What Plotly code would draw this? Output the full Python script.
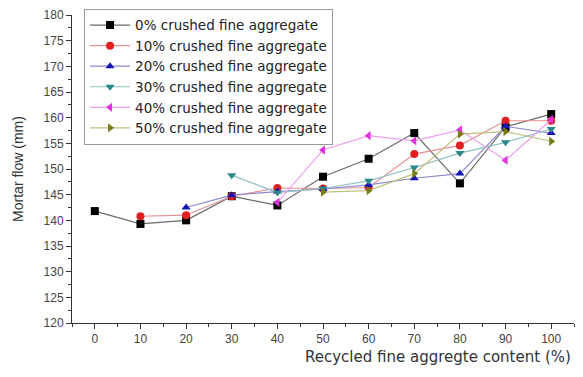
import plotly.graph_objects as go

x_all = [0, 10, 20, 30, 40, 50, 60, 70, 80, 90, 100]

s0 = [141.8, 139.3, 140.0, 144.7, 142.9, 148.5, 152.0, 157.0, 147.2, 158.2, 160.7]
x10 = [10, 20, 30, 40, 50, 60, 70, 80, 90, 100]
s10 = [140.8, 141.0, 144.7, 146.3, 146.2, 146.4, 152.9, 154.6, 159.4, 159.4]
x20 = [20, 30, 40, 50, 60, 70, 80, 90, 100]
s20 = [142.5, 144.9, 145.6, 146.1, 146.9, 148.2, 149.1, 158.3, 157.0]
x30 = [30, 40, 50, 60, 70, 80, 90, 100]
s30 = [148.8, 145.4, 146.2, 147.7, 150.3, 153.1, 155.2, 157.8]
x40 = [40, 50, 60, 70, 80, 90, 100]
s40 = [143.5, 153.7, 156.5, 155.5, 157.6, 151.7, 159.6]
x50 = [50, 60, 70, 80, 90, 100]
s50 = [145.5, 145.8, 149.1, 156.8, 157.3, 155.4]

names = ["0% crushed fine aggregate", "10% crushed fine aggregate", "20% crushed fine aggregate",
         "30% crushed fine aggregate", "40% crushed fine aggregate", "50% crushed fine aggregate"]
xs = [x_all, x10, x20, x30, x40, x50]
ys = [s0, s10, s20, s30, s40, s50]
marker_colors = ["#000000", "#e0201f", "#1414b4", "#2a8888", "#e030e0", "#7a7a1a"]
line_colors = ["#6a6a6a", "#e89090", "#8a8ad0", "#8fc0c0", "#eea0ee", "#c0c080"]
symbols = ["square", "circle", "triangle-up", "triangle-down", "triangle-left", "triangle-right"]

fig = go.Figure()
for xv, yv, n, mc, lc, sym in zip(xs, ys, names, marker_colors, line_colors, symbols):
    fig.add_trace(go.Scatter(
        x=xv, y=yv, name=n, mode="lines+markers",
        line=dict(color=lc, width=1.2),
        marker=dict(symbol=sym, size=8, color=mc, line=dict(width=0)),
    ))

fig.update_layout(
    width=583, height=377,
    margin=dict(l=72, r=9, t=13, b=54),
    paper_bgcolor="white", plot_bgcolor="white",
    font=dict(family="Liberation Sans, Arial, sans-serif", size=12, color="#333333"),
    legend=dict(
        x=0.024, y=1.02, xanchor="left", yanchor="top",
        bordercolor="#999999", borderwidth=1, bgcolor="white",
        font=dict(family="DejaVu Sans", size=13.5, color="#222222"),
        tracegroupgap=0, itemwidth=40,
    ),
    showlegend=True,
)
fig.update_xaxes(
    range=[-5, 105], tickmode="array", tickvals=x_all,
    ticks="outside", ticklen=5, tickcolor="#333333", showline=True, linecolor="#333333",
    linewidth=1, showgrid=False, zeroline=False,
    minor=dict(ticks="outside", ticklen=3, dtick=5, tick0=5, tickcolor="#333333"),
    tickfont=dict(size=12, color="#444444"),
)
fig.update_yaxes(
    range=[120, 180], dtick=5, tick0=120,
    ticks="outside", ticklen=5, tickcolor="#333333", showline=True, linecolor="#333333",
    linewidth=1, showgrid=False, zeroline=False,
    minor=dict(ticks="outside", ticklen=3, dtick=2.5, tickcolor="#333333"),
    tickfont=dict(size=12, color="#444444"),
    title=dict(text="Mortar flow (mm)", font=dict(size=14, color="#333333"), standoff=16),
)
fig.add_annotation(
    text="Recycled fine aggregte content (%)", xref="paper", yref="paper",
    x=0.998, y=-0.075, xanchor="right", yanchor="top", showarrow=False,
    font=dict(family="DejaVu Sans", size=15, color="#333333"),
)

fig.write_html("out.html")
